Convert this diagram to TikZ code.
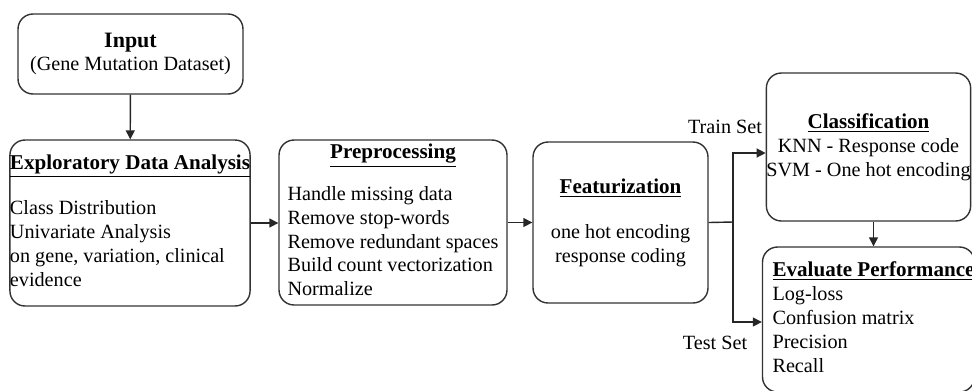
\documentclass[tikz,border=0pt]{standalone}
\usepackage{fontspec}
\setmainfont{Liberation Serif}
\usetikzlibrary{arrows.meta}

\newcommand{\stagetitle}[1]{\underline{\fontsize{12}{14}\selectfont\textbf{#1}}}

\begin{document}
\begin{tikzpicture}[x=0.02cm, y=-0.02cm,
    stagebox/.style={draw=black!80, line width=0.8pt, rounded corners=0.3cm,
      font=\fontsize{11.5}{13.6}\selectfont, inner sep=0pt},
    flow/.style={-{Triangle[length=1.8mm,width=1.8mm]}, line width=0.8pt, draw=black!85},
    setlabel/.style={font=\fontsize{11.5}{13.6}\selectfont, inner sep=0pt}]

    \useasboundingbox (0,0) rectangle (972,390);

    %% stages of the pipeline, placed in pixel units
    \node[stagebox, minimum width=4.5cm, minimum height=1.6cm, align=center] (input) at (130.5,54)
      {{\fontsize{12.5}{14}\selectfont\textbf{Input}}\\(Gene Mutation Dataset)};

    \node[stagebox, minimum width=4.8cm, minimum height=3.32cm] (eda) at (130,223)
      {\begin{tabular}{@{}l@{}}
        \multicolumn{1}{@{}c@{}}{\stagetitle{Exploratory Data Analysis}}\\[12pt]
        Class Distribution\\
        Univariate Analysis\\
        on gene, variation, clinical\\
        evidence
      \end{tabular}};

    \node[stagebox, minimum width=4.56cm, minimum height=3.3cm] (prep) at (393,222.5)
      {\begin{tabular}{@{}l@{}}
        \multicolumn{1}{@{}c@{}}{\stagetitle{Preprocessing}}\\[10pt]
        Handle missing data\\
        Remove stop-words\\
        Remove redundant spaces\\
        Build count vectorization\\
        Normalize
      \end{tabular}};

    \node[stagebox, minimum width=3.5cm, minimum height=3.22cm, align=center] (feat) at (620.5,222.5)
      {\stagetitle{Featurization}\\[12pt] one hot encoding\\ response coding};

    \node[stagebox, minimum width=4.06cm, minimum height=2.96cm, align=center] (class) at (868.5,147)
      {\stagetitle{Classification}\\ KNN - Response code\\ SVM - One hot encoding};

    \node[stagebox, minimum width=4.06cm, minimum height=2.9cm] (eval) at (868.5,319.5)
      {\hspace{0.2cm}\begin{tabular}{@{}l@{}}
        \stagetitle{Evaluate Performance}\\
        Log-loss\\
        Confusion matrix\\
        Precision\\
        Recall
      \end{tabular}};

    %% split point of the data
    \coordinate (split) at (733,222);

    \node[setlabel] (trainlbl) at (725,127) {Train Set};
    \node[setlabel] (testlbl) at (715,343) {Test Set};

    \draw[flow] (input) -- (eda);
    \draw[flow] (eda.east) -- (prep.west |- eda.east);
    \draw[flow] (prep) -- (feat);
    \draw[line width=0.8pt, draw=black!85] (feat.east) -- (split);
    \draw[flow] (split) |- ([yshift=-0.12cm]class.west);
    \draw[flow] (split) |- ([yshift=-0.05cm]eval.west);
    \draw[flow] ([xshift=0.1cm]class.south) -- ([xshift=0.1cm]eval.north);
\end{tikzpicture}
\end{document}
